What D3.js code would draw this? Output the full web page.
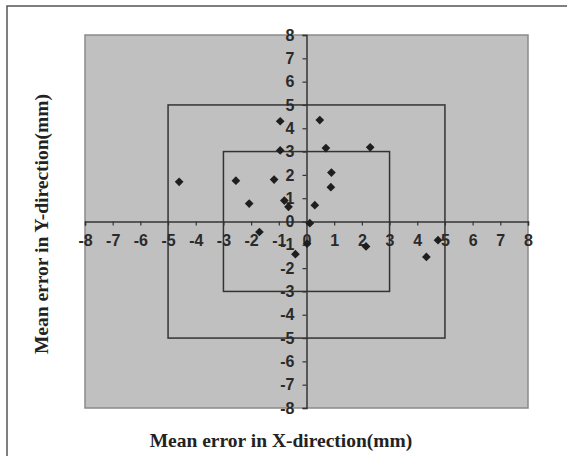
<!DOCTYPE html>
<html>
<head>
<meta charset="utf-8">
<script src="https://cdn.jsdelivr.net/npm/d3@7"></script>
<style>
  body { margin: 0; background: #fff; }
  svg { display: block; }
</style>
</head>
<body>
<div id="container"></div>
<script>
// mean errors (mm)
const errX = [-4.6, -2.55, -2.07, -1.7, -1.17, -0.95, -0.95, -0.8, -0.65, -0.4, 0.02, 0.12, 0.3, 0.48, 0.7, 0.9, 0.88, 2.3, 2.15, 4.33, 4.75];
const errY = [1.7, 1.75, 0.77, -0.45, 1.8, 4.3, 3.05, 0.9, 0.63, -1.4, -0.95, -0.07, 0.7, 4.35, 3.15, 2.1, 1.47, 3.18, -1.07, -1.52, -0.8];
const tickVals = [-8, -7, -6, -5, -4, -3, -2, -1, 0, 1, 2, 3, 4, 5, 6, 7, 8];
const boxLimits = [5, 3];

const width = 567, height = 456;
const plot = { left: 85, right: 528, top: 35, bottom: 408 };

const svg = d3.select("#container")
  .append("svg")
  .attr("width", width)
  .attr("height", height);

// chart frame (only top + left show in the crop)
svg.append("rect")
  .attr("x", 7).attr("y", 6)
  .attr("width", width + 20).attr("height", height + 20)
  .attr("fill", "#fff")
  .attr("stroke", "#555")
  .attr("stroke-width", 1.5);

const x = d3.scaleLinear().domain([-8, 8]).range([plot.left, plot.right]);
const y = d3.scaleLinear().domain([-8, 8]).range([plot.bottom, plot.top]);

// plot area
svg.append("rect")
  .attr("x", plot.left).attr("y", plot.top)
  .attr("width", plot.right - plot.left)
  .attr("height", plot.bottom - plot.top)
  .attr("fill", "#c0c0c0")
  .attr("stroke", "#8a8a8a")
  .attr("stroke-width", 1.5);

// tolerance squares
svg.selectAll("rect.box")
  .data(boxLimits)
  .join("rect")
  .attr("class", "box")
  .attr("x", d => x(-d))
  .attr("y", d => y(d))
  .attr("width", d => x(d) - x(-d))
  .attr("height", d => y(-d) - y(d))
  .attr("fill", "none")
  .attr("stroke", "#333")
  .attr("stroke-width", 1.5);

// axes crossing at zero, plain hyphen for minus like the original
const fmt = d => String(d);
const xAxis = svg.append("g")
  .attr("transform", `translate(0,${y(0)})`)
  .call(d3.axisBottom(x).tickValues(tickVals).tickSize(4).tickPadding(9).tickFormat(fmt));
const yAxis = svg.append("g")
  .attr("transform", `translate(${x(0)},0)`)
  .call(d3.axisLeft(y).tickValues(tickVals).tickSize(4).tickPadding(8).tickFormat(fmt));

[xAxis, yAxis].forEach(g => {
  g.select(".domain").attr("stroke", "#333").attr("stroke-width", 1.5);
  g.selectAll(".tick line").attr("stroke", "#333").attr("stroke-width", 1.2);
  g.selectAll(".tick text")
    .attr("fill", "#2a2a2a")
    .style("font-family", "'Liberation Sans', Arial, sans-serif")
    .style("font-size", "16px")
    .style("font-weight", "bold");
});

// data points (small rotated squares)
svg.selectAll("path.pt")
  .data(errX.map((d, i) => [d, errY[i]]))
  .join("path")
  .attr("class", "pt")
  .attr("transform", d => `translate(${x(d[0])},${y(d[1])}) rotate(45)`)
  .attr("d", d3.symbol(d3.symbolSquare, 38))
  .attr("fill", "#1e1e1e");

// axis titles
svg.append("text")
  .attr("x", 281).attr("y", 447)
  .attr("text-anchor", "middle")
  .style("font-family", "'Liberation Serif', 'Times New Roman', serif")
  .style("font-size", "19.5px")
  .style("font-weight", "bold")
  .attr("fill", "#222")
  .text("Mean error in X-direction(mm)");

svg.append("text")
  .attr("transform", "translate(48,224) rotate(-90)")
  .attr("text-anchor", "middle")
  .style("font-family", "'Liberation Serif', 'Times New Roman', serif")
  .style("font-size", "19.5px")
  .style("font-weight", "bold")
  .attr("fill", "#222")
  .text("Mean error in Y-direction(mm)");
</script>
</body>
</html>
